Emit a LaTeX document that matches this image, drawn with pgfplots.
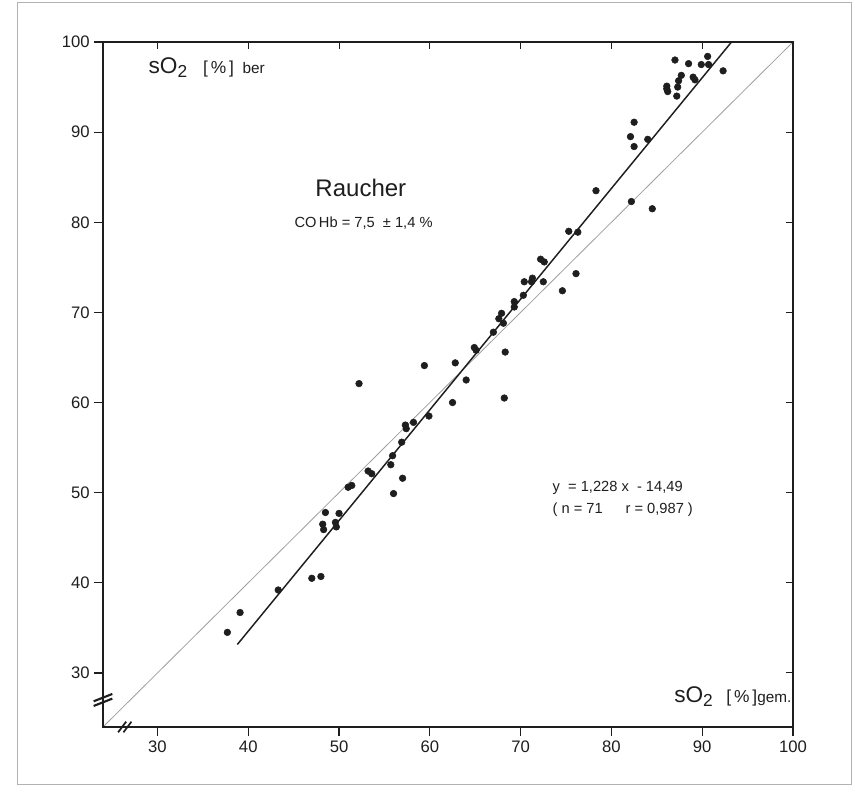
\documentclass[border=0pt]{standalone}
\usepackage{fontspec}
\setmainfont{Liberation Sans}
\usepackage{pgfplots}
\pgfplotsset{compat=1.18}
\definecolor{ink}{RGB}{30,30,30}

\begin{document}
\begin{tikzpicture}
% page frame (852 x 785 px, 1 px = 0.75 pt)
\path[use as bounding box] (0,0) rectangle (639pt,588.75pt);
\draw[gray!60, line width=0.6pt] (12.75pt,0.75pt) rectangle (638.25pt,587.25pt);

\begin{axis}[
    at={(77.25pt,43.5pt)}, anchor=south west,
    scale only axis,
    width=517.5pt, height=513.75pt,
    xmin=24, xmax=100, ymin=24, ymax=100,
    xtick={30,40,...,100}, ytick={30,40,...,100},
    tick pos=left, tick align=outside,
    major tick length=6.5pt,
    every tick/.style={ink, line width=0.9pt},
    axis line style={ink, line width=1.3pt},
    tick label style={font=\fontsize{12.5}{14}\selectfont, text=ink},
    /pgf/number format/assume math mode=true,
    clip=false,
  ]
  % identity line
  \addplot[gray!75, line width=0.6pt] coordinates {(24,24) (100,100)};
  % regression line y = 1.228x - 14.49
  \addplot[ink, line width=1.1pt] coordinates {(38.8,33.16) (93.23,100)};

  \addplot[only marks, mark=*, mark size=2.5pt, ink] coordinates {
    (37.7,34.5) (39.1,36.7) (43.3,39.2) (47.0,40.5) (48.0,40.7)
    (48.2,46.5) (48.3,45.9) (48.5,47.8) (49.6,46.7) (49.7,46.2)
    (50.0,47.7) (51.0,50.6) (51.4,50.8) (52.2,62.1) (53.2,52.4)
    (53.6,52.1) (56.0,49.9) (55.7,53.1) (55.9,54.1) (56.9,55.6)
    (57.0,51.6) (57.3,57.5) (57.4,57.1) (58.2,57.8) (59.4,64.1)
    (59.9,58.5) (62.5,60.0) (62.8,64.4) (64.0,62.5) (64.9,66.1)
    (65.1,65.8) (67.0,67.8) (67.6,69.3) (67.9,69.9) (68.1,68.8)
    (68.2,60.5) (68.3,65.6) (69.3,71.2) (69.3,70.6) (70.3,71.9)
    (70.4,73.4) (71.2,73.4) (71.3,73.8) (72.2,75.9) (72.6,75.6)
    (72.5,73.4) (74.6,72.4) (75.3,79.0) (76.1,74.3) (76.3,78.9)
    (78.3,83.5) (82.1,89.5) (82.2,82.3) (82.5,91.1) (82.5,88.4)
    (84.0,89.2) (84.5,81.5) (86.1,95.1) (86.1,94.8) (86.2,94.5)
    (87.0,98.0) (87.2,94.0) (87.3,95.0) (87.4,95.7) (87.7,96.3)
    (88.5,97.6) (89.0,96.1) (89.2,95.8) (89.9,97.5) (90.6,98.4)
    (90.7,97.5) (92.3,96.8)
  };

  % axis break marks
  \draw[ink, line width=1.6pt, shift={(axis cs:24,27)}]
    (-7pt,-4.5pt) -- (7pt,1pt) (-7pt,-1pt) -- (7pt,4.5pt);
  \draw[ink, line width=1.3pt, shift={(axis cs:26.4,24)}]
    (-5pt,-4pt) -- (1pt,4pt) (-1pt,-4pt) -- (5pt,4pt);

  % texts
  \node[anchor=base west, ink, inner sep=0pt] at (axis cs:29.0,96.5)
    {\fontsize{17}{20}\selectfont sO\raisebox{-0.3ex}{\fontsize{13}{14}\selectfont 2}\hspace{0.7em}%
     \fontsize{13}{14}\selectfont [\,\%\,]\hspace{0.5em}\fontsize{11.5}{13}\selectfont ber};
  \node[ink, inner sep=0pt] at (axis cs:52.4,83.8)
    {\fontsize{18}{22}\selectfont Raucher};
  \node[ink, inner sep=0pt] at (axis cs:52.7,79.9)
    {\fontsize{11}{13}\selectfont CO\,Hb = 7,5 \ ± 1,4 \%};
  \node[anchor=west, ink, inner sep=0pt] at (axis cs:73.5,50.5)
    {\fontsize{11}{13}\selectfont y \ = 1,228 x \ - 14,49};
  \node[anchor=west, ink, inner sep=0pt] at (axis cs:73.5,48.1)
    {\fontsize{11}{13}\selectfont ( n = 71 \quad\ r = 0,987 )};
  \node[anchor=base east, ink, inner sep=0pt] at (axis cs:99.85,26.7)
    {\fontsize{17}{20}\selectfont sO\raisebox{-0.3ex}{\fontsize{13}{14}\selectfont 2}\hspace{0.6em}%
     \fontsize{13}{14}\selectfont [\,\%\,]\fontsize{11.5}{13}\selectfont gem.};
\end{axis}

% inner ticks on top and right
\begin{axis}[
    at={(77.25pt,43.5pt)}, anchor=south west,
    scale only axis,
    width=517.5pt, height=513.75pt,
    xmin=24, xmax=100, ymin=24, ymax=100,
    xtick={30,40,...,90}, ytick={30,40,...,90},
    xticklabels={}, yticklabels={},
    tick pos=right, tick align=inside,
    major tick length=5pt,
    every tick/.style={ink, line width=0.8pt},
    axis line style={ink, line width=1.3pt},
  ]
  \addplot[draw=none] coordinates {(24,24)};
\end{axis}
\end{tikzpicture}
\end{document}
